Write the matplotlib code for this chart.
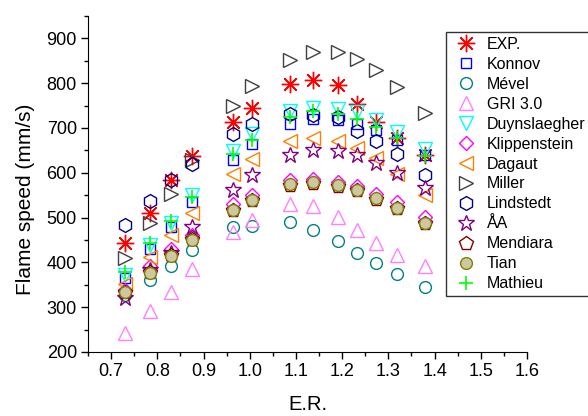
import matplotlib

matplotlib.use("Agg")

import matplotlib.pyplot as plt
from matplotlib.ticker import MultipleLocator

plt.rcParams["font.family"] = ["Liberation Sans", "DejaVu Sans"]

ER = [0.73, 0.785, 0.83, 0.875, 0.963, 1.005, 1.088, 1.137, 1.19, 1.232, 1.273, 1.318, 1.38]

EXP = [444, 510, 585, 637, 713, 745, 798, 807, 795, 754, 713, 678, 639]
KONNOV = [365, 429, 479, 535, 628, 665, 709, 720, 717, 709, 696, 674, 639]
MEVEL = [327, 360, 392, 427, 479, 481, 490, 473, 448, 421, 399, 374, 345]
GRI30 = [242, 292, 334, 386, 468, 494, 531, 525, 501, 473, 443, 416, 392]
DUYNSLAEGHER = [372, 438, 487, 550, 648, 687, 739, 745, 743, 735, 717, 691, 654]
KLIPPENSTEIN = [338, 392, 431, 461, 531, 550, 585, 587, 579, 570, 553, 535, 501]
DAGAUT = [352, 412, 461, 510, 598, 631, 672, 678, 671, 656, 634, 598, 550]
MILLER = [409, 487, 553, 628, 750, 793, 852, 869, 869, 854, 830, 792, 733]
LINDSTEDT = [483, 537, 583, 620, 687, 709, 732, 728, 724, 694, 672, 643, 596]
AA = [320, 382, 420, 478, 562, 594, 639, 650, 648, 639, 622, 599, 565]
MENDIARA = [334, 379, 416, 453, 516, 539, 572, 577, 570, 561, 542, 522, 487]
TIAN = [334, 377, 414, 451, 518, 539, 576, 579, 572, 561, 543, 522, 489]
MATHIEU = [379, 443, 492, 546, 642, 674, 724, 739, 732, 720, 703, 678, 637]

SERIES = [
    ("EXP.", EXP, dict(marker=(8, 2, 0), color="#ff0000", ms=12.5, mew=1.0)),
    ("Konnov", KONNOV, dict(marker="s", color="#0000ff", ms=7.5)),
    ("Mével", MEVEL, dict(marker="o", color="#008080", ms=8.5)),
    ("GRI 3.0", GRI30, dict(marker="^", color="#ff80ff", ms=10.5)),
    ("Duynslaegher", DUYNSLAEGHER, dict(marker="v", color="#00ffff", ms=10)),
    ("Klippenstein", KLIPPENSTEIN, dict(marker="D", color="#ff00ff", ms=7)),
    ("Dagaut", DAGAUT, dict(marker="<", color="#ff8000", ms=10)),
    ("Miller", MILLER, dict(marker=">", color="#404040", ms=10)),
    ("Lindstedt", LINDSTEDT, dict(marker="h", color="#000080", ms=10)),
    ("ÅA", AA, dict(marker="*", color="#800080", ms=12)),
    ("Mendiara", MENDIARA, dict(marker="p", color="#800000", ms=10)),
    ("Tian", TIAN, dict(marker="o", color="#808000", ms=8.5, face="#cdc7a2")),
    ("Mathieu", MATHIEU, dict(marker="+", color="#00ff00", ms=10, mew=1.2)),
]


def main() -> int:
    fig = plt.figure(figsize=(5.88, 4.16), dpi=100)
    ax = fig.add_axes([88 / 588, 64 / 416, 439 / 588, 336 / 416])

    for label, values, style in SERIES:
        ax.plot(
            ER,
            values,
            linestyle="none",
            marker=style["marker"],
            markersize=style["ms"],
            markeredgecolor=style["color"],
            markerfacecolor=style.get("face", "none"),
            markeredgewidth=style.get("mew", 1.0),
            label=label,
        )

    ax.set_xlim(0.65, 1.6)
    ax.set_ylim(200, 950)
    ax.xaxis.set_minor_locator(MultipleLocator(0.05))
    ax.yaxis.set_minor_locator(MultipleLocator(50))
    ax.set_xticks([0.7, 0.8, 0.9, 1.0, 1.1, 1.2, 1.3, 1.4, 1.5, 1.6])
    ax.set_yticks([200, 300, 400, 500, 600, 700, 800, 900])
    ax.tick_params(which="major", direction="out", length=5, width=1, labelsize=13, pad=3)
    ax.tick_params(which="minor", direction="out", length=3, width=1)
    ax.spines["top"].set_visible(False)
    ax.spines["right"].set_visible(False)
    ax.set_xlabel("E.R.", fontsize=14.5, labelpad=11)
    ax.set_ylabel("Flame speed (mm/s)", fontsize=15)
    ax.yaxis.set_label_coords(-0.12, 0.455)

    leg = ax.legend(
        loc="upper left",
        bbox_to_anchor=(446 / 588, 1 - 32 / 416),
        bbox_transform=fig.transFigure,
        fontsize=11.5,
        frameon=True,
        fancybox=False,
        edgecolor="black",
        borderpad=0.3,
        labelspacing=0.31,
        handlelength=1.9,
        handletextpad=0.36,
        borderaxespad=0,
    )
    leg.get_frame().set_linewidth(1.0)

    fig.savefig("out.png", dpi=100)
    plt.close(fig)
    return 0


if __name__ == "__main__":
    raise SystemExit(main())
